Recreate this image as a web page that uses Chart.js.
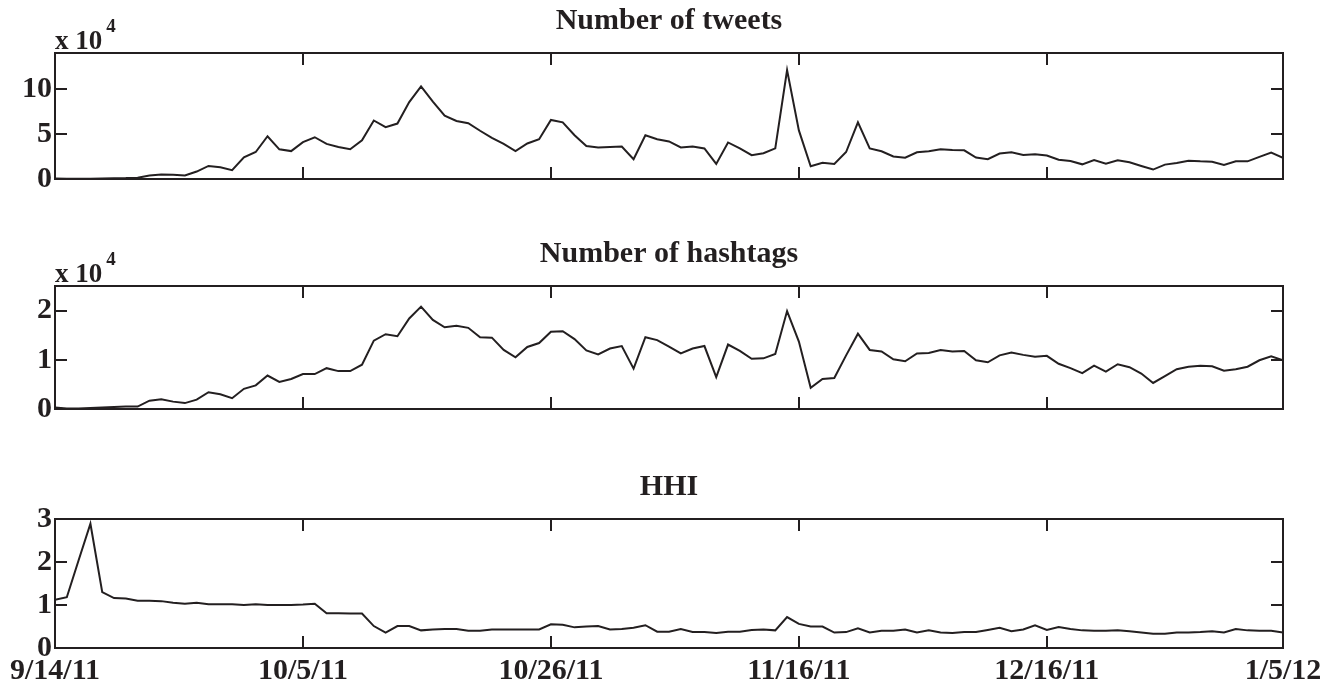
<!DOCTYPE html>
<html>
<head>
<meta charset="utf-8">
<script src="https://cdn.jsdelivr.net/npm/chart.js@4.4.1/dist/chart.umd.min.js"></script>
<style>
  html, body { margin: 0; padding: 0; background: #ffffff; }
  #wrap { position: relative; width: 1337px; height: 687px; overflow: hidden; background: #fff; }
  .panel { position: absolute; left: 0; width: 1337px; }
  canvas { display: block; }
</style>
</head>
<body>
<div id="wrap">
  <div class="panel" style="top:0px;height:200px"><canvas id="c1" width="1337" height="200"></canvas></div>
  <div class="panel" style="top:230px;height:200px"><canvas id="c2" width="1337" height="200"></canvas></div>
  <div class="panel" style="top:470px;height:217px"><canvas id="c3" width="1337" height="217"></canvas></div>
</div>
<script>
// ---- data (daily values) ----
const xTickPos = [0, 21, 42, 63, 84, 104];
const xTickLabels = ['9/14/11', '10/5/11', '10/26/11', '11/16/11', '12/16/11', '1/5/12'];

// Number of tweets (x 10^4)
const tweets = [
  0.05, 0.02, 0.02, 0.04, 0.06, 0.08, 0.10, 0.15, 0.40, 0.50,
  0.47, 0.40, 0.83, 1.45, 1.30, 0.98, 2.40, 3.00, 4.75, 3.30,
  3.10, 4.10, 4.64, 3.90, 3.55, 3.30, 4.30, 6.50, 5.76, 6.16,
  8.55, 10.30, 8.60, 7.03, 6.45, 6.20, 5.36, 4.57, 3.90, 3.10,
  3.95, 4.42, 6.56, 6.30, 4.86, 3.66, 3.50, 3.55, 3.60, 2.20,
  4.86, 4.42, 4.17, 3.50, 3.62, 3.40, 1.67, 4.06, 3.40, 2.64,
  2.86, 3.40, 12.10, 5.40, 1.41, 1.81, 1.67, 3.00, 6.30, 3.40,
  3.08, 2.50, 2.36, 2.97, 3.08, 3.30, 3.22, 3.19, 2.39, 2.20,
  2.83, 2.97, 2.68, 2.75, 2.60, 2.14, 2.00, 1.63, 2.10, 1.70,
  2.07, 1.85, 1.45, 1.05, 1.60, 1.78, 2.03, 1.96, 1.92, 1.56,
  1.96, 1.96, 2.46, 2.93, 2.36
];

// Number of hashtags (x 10^4)
const hashtags = [
  0.03, 0.01, 0.01, 0.02, 0.03, 0.04, 0.05, 0.05, 0.17, 0.20,
  0.15, 0.12, 0.19, 0.34, 0.30, 0.22, 0.41, 0.48, 0.68, 0.55,
  0.61, 0.71, 0.71, 0.83, 0.77, 0.77, 0.90, 1.39, 1.52, 1.48,
  1.84, 2.08, 1.81, 1.66, 1.69, 1.65, 1.46, 1.45, 1.20, 1.05,
  1.26, 1.34, 1.57, 1.58, 1.42, 1.19, 1.11, 1.23, 1.28, 0.82,
  1.46, 1.40, 1.27, 1.13, 1.23, 1.28, 0.65, 1.31, 1.18, 1.02,
  1.03, 1.12, 1.99, 1.37, 0.43, 0.61, 0.63, 1.09, 1.53, 1.20,
  1.17, 1.01, 0.97, 1.13, 1.14, 1.20, 1.17, 1.18, 0.99, 0.95,
  1.09, 1.15, 1.10, 1.06, 1.08, 0.92, 0.83, 0.73, 0.88, 0.76,
  0.91, 0.85, 0.72, 0.53, 0.67, 0.81, 0.86, 0.88, 0.87, 0.78,
  0.81, 0.86, 0.99, 1.07, 0.99
];

// HHI
const hhi = [
  1.12, 1.18, 2.04, 2.89, 1.30, 1.16, 1.15, 1.10, 1.10, 1.09,
  1.05, 1.03, 1.05, 1.02, 1.02, 1.02, 1.00, 1.02, 1.00, 1.00,
  1.00, 1.01, 1.03, 0.81, 0.81, 0.80, 0.80, 0.51, 0.36, 0.51,
  0.51, 0.41, 0.43, 0.44, 0.44, 0.40, 0.40, 0.43, 0.43, 0.43,
  0.43, 0.43, 0.55, 0.54, 0.48, 0.50, 0.51, 0.43, 0.44, 0.47,
  0.53, 0.38, 0.38, 0.44, 0.37, 0.37, 0.35, 0.38, 0.38, 0.42,
  0.43, 0.41, 0.72, 0.56, 0.50, 0.50, 0.36, 0.37, 0.46, 0.36,
  0.40, 0.40, 0.43, 0.36, 0.41, 0.36, 0.35, 0.37, 0.37, 0.42,
  0.47, 0.39, 0.43, 0.53, 0.42, 0.49, 0.44, 0.41, 0.40, 0.40,
  0.41, 0.39, 0.36, 0.33, 0.33, 0.36, 0.36, 0.37, 0.39, 0.36,
  0.44, 0.41, 0.40, 0.40, 0.36
];

const tweetsYTicks = [0, 5, 10];
const hashtagsYTicks = [0, 1, 2];
const hhiYTicks = [0, 1, 2, 3];

// ---- styling ----
const INK = '#231f20';
const FONT = '"Liberation Serif", "Times New Roman", serif';
const TICK_LEN = 12;

const framePlugin = {
  id: 'frame',
  afterDraw(chart, args, opts) {
    const { ctx, chartArea: a } = chart;
    const xs = chart.scales.x, ys = chart.scales.y;
    ctx.save();
    ctx.strokeStyle = INK;
    ctx.lineWidth = 2;
    ctx.lineCap = 'butt';
    ctx.beginPath();
    xs.ticks.forEach(t => {
      const px = Math.round(xs.getPixelForValue(t.value));
      ctx.moveTo(px, a.bottom); ctx.lineTo(px, a.bottom - TICK_LEN);
      ctx.moveTo(px, a.top); ctx.lineTo(px, a.top + TICK_LEN);
    });
    ys.ticks.forEach(t => {
      const py = Math.round(ys.getPixelForValue(t.value));
      ctx.moveTo(a.left, py); ctx.lineTo(a.left + TICK_LEN, py);
      ctx.moveTo(a.right, py); ctx.lineTo(a.right - TICK_LEN, py);
    });
    ctx.stroke();
    ctx.strokeRect(a.left, a.top, a.right - a.left, a.bottom - a.top);

    ctx.fillStyle = INK;
    ctx.textBaseline = 'alphabetic';
    ctx.textAlign = 'center';
    ctx.font = 'bold 30px ' + FONT;
    ctx.fillText(opts.title, (a.left + a.right) / 2, a.top - 24);

    if (opts.exponent) {
      ctx.textAlign = 'left';
      ctx.font = 'bold 27px ' + FONT;
      const base = 'x 10';
      ctx.fillText(base, a.left, a.top - 4);
      const w = ctx.measureText(base).width;
      ctx.font = 'bold 19px ' + FONT;
      ctx.fillText(opts.exponent, a.left + w + 4, a.top - 21);
    }
    ctx.restore();
  }
};

function makeChart(id, values, yMax, yTicks, title, exponent, showX, padTop, padBottom) {
  const ctx = document.getElementById(id).getContext('2d');
  return new Chart(ctx, {
    type: 'line',
    data: {
      datasets: [{
        data: values.map((v, i) => ({ x: i, y: v })),
        borderColor: INK,
        borderWidth: 2,
        pointRadius: 0,
        tension: 0,
        fill: false
      }]
    },
    options: {
      responsive: false,
      animation: false,
      devicePixelRatio: 1,
      layout: { padding: { left: 0, right: 54, top: padTop, bottom: padBottom } },
      plugins: {
        legend: { display: false },
        tooltip: { enabled: false },
        title: { display: false },
        frame: { title: title, exponent: exponent }
      },
      scales: {
        x: {
          type: 'linear',
          min: 0,
          max: 104,
          grid: { display: false, drawTicks: false },
          border: { display: false },
          afterBuildTicks: s => { s.ticks = xTickPos.map(v => ({ value: v })); },
          afterFit: s => { s.height = showX ? 39 : 0; },
          ticks: {
            display: showX,
            autoSkip: false,
            maxRotation: 0,
            padding: 5,
            color: INK,
            font: { family: FONT, size: 30, weight: 'bold' },
            callback: (v) => xTickLabels[xTickPos.indexOf(v)]
          }
        },
        y: {
          type: 'linear',
          min: 0,
          max: yMax,
          grid: { display: false, drawTicks: false },
          border: { display: false },
          afterBuildTicks: s => { s.ticks = yTicks.map(v => ({ value: v })); },
          afterFit: s => { s.width = 55; },
          ticks: {
            padding: 3,
            color: INK,
            font: { family: FONT, size: 30, weight: 'bold' },
            callback: (v) => String(v)
          }
        }
      }
    },
    plugins: [framePlugin]
  });
}

makeChart('c1', tweets, 14, tweetsYTicks, 'Number of tweets', '4', false, 53, 18);
makeChart('c2', hashtags, 2.5, hashtagsYTicks, 'Number of hashtags', '4', false, 56, 15);
makeChart('c3', hhi, 3, hhiYTicks, 'HHI', null, true, 49, 0);
</script>
</body>
</html>
